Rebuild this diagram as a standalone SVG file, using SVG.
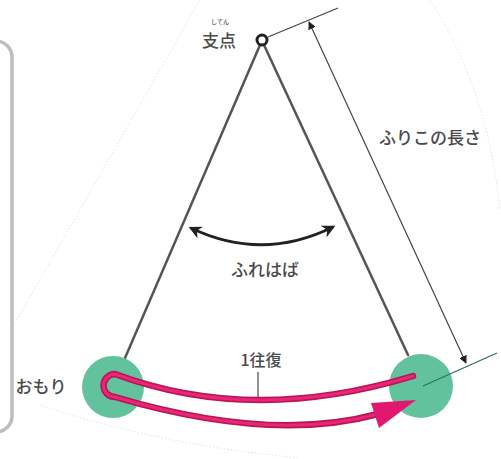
<svg xmlns="http://www.w3.org/2000/svg" width="501" height="459" viewBox="0 0 501 459">
<style>
.lbl{font-family:"Noto Sans CJK JP","Noto Sans",sans-serif;fill:#4a4a4a;font-size:15px;font-weight:500}
.str{stroke:#555;stroke-width:2.5;fill:none;stroke-linecap:round}
.bob{fill:#62c29e}
.dim{stroke:#444;stroke-width:1.2;fill:none}
.pk{fill:none;stroke-linecap:round}
</style>
<defs>
<marker id="ah" viewBox="0 0 10 10" refX="9" refY="5" markerWidth="8" markerHeight="8" markerUnits="userSpaceOnUse" orient="auto-start-reverse">
<path d="M0 0 L10 5 L0 10 Z" fill="#222"/>
</marker>
<marker id="sw" viewBox="0 0 10 10" refX="8" refY="5" markerWidth="13" markerHeight="13" markerUnits="userSpaceOnUse" orient="auto-start-reverse">
<path d="M0 0 L10 5 L0 10 L3 5 Z" fill="#222"/>
</marker>
</defs>
<rect width="501" height="459" fill="#fff"/>
<g id="faint" fill="none" stroke="#e2e2e2" stroke-width="1" stroke-dasharray="1.5 2">
<path d="M200 0 L10 332"/>
<path d="M430 0 Q488 90 500 210"/>
<path d="M40 405 Q160 445 300 458"/>
</g>
<g id="panel"><rect x="-20" y="41" width="32" height="391" rx="16" fill="none" stroke="#bdbdbd" stroke-width="3.5"/></g>
<g id="connectors">
<line class="str" x1="260" y1="45" x2="125" y2="358"/>
<line class="str" x1="264" y1="45" x2="408" y2="355"/>
<line class="dim" x1="268" y1="37" x2="338" y2="8"/>
<line class="dim" x1="309" y1="22" x2="466" y2="363" marker-start="url(#ah)" marker-end="url(#ah)"/>
<path d="M191 228 Q262 262 333 227" fill="none" stroke="#222" stroke-width="3" marker-start="url(#sw)" marker-end="url(#sw)"/>
<line x1="258" y1="372" x2="258" y2="400" stroke="#555" stroke-width="1.3"/>
</g>
<g id="bob-left"><circle class="bob" cx="113" cy="387" r="31"/></g>
<g id="bob-right"><circle class="bob" cx="421" cy="386" r="32"/></g>
<g id="round-trip">
<path class="pk" stroke="#b8174f" stroke-width="6.5" d="M413 376 Q252 425 115 374 A11.5 11.5 0 0 0 115 397 Q271 443 378 414"/>
<path class="pk" stroke="#e8267e" stroke-width="3" d="M413 376 Q252 425 115 374 A11.5 11.5 0 0 0 115 397 Q271 443 378 414"/>
<polygon points="416,400 371,403 379,428" fill="#e2176f"/>
</g>
<line x1="423" y1="386" x2="497" y2="353" stroke="#2f6f55" stroke-width="1.2"/>
<g id="pivot"><circle cx="262" cy="40" r="5" fill="#fff" stroke="#222" stroke-width="3"/></g>
<g id="labels">
<text class="lbl" x="220" y="24" text-anchor="middle" style="font-size:6px">してん</text>
<text class="lbl" x="219" y="47" text-anchor="middle" style="font-size:17px">支点</text>
<text class="lbl" x="430" y="144" text-anchor="middle" style="font-size:17px">ふりこの長さ</text>
<text class="lbl" x="265" y="276" text-anchor="middle" style="font-size:17px">ふれはば</text>
<text class="lbl" x="261" y="366" text-anchor="middle" style="font-size:16px">1往復</text>
<text class="lbl" x="41" y="393" text-anchor="middle" style="font-size:17px">おもり</text>
</g>
</svg>
